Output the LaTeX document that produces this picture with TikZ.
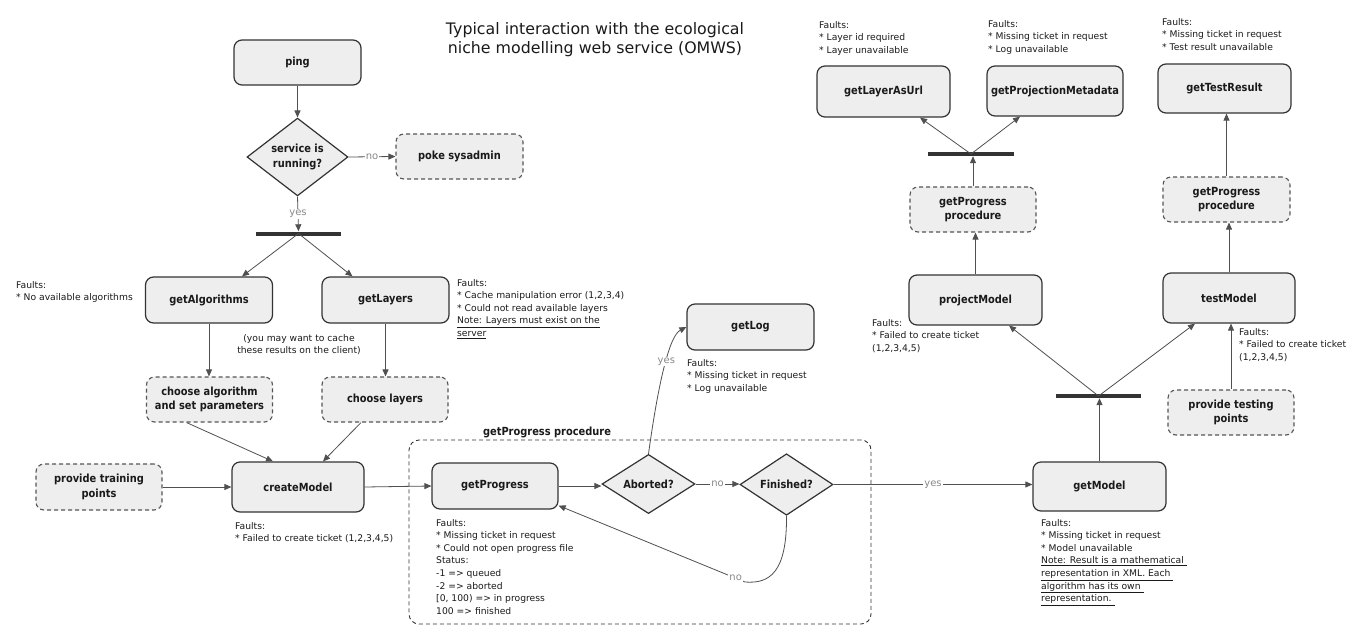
\documentclass[tikz,border=0pt]{standalone}
\usepackage{fontspec}
\setmainfont{DejaVu Sans}
\newfontfamily\nodefamily[FakeStretch=0.88]{DejaVu Sans}
\usetikzlibrary{arrows.meta,shapes.geometric,calc}
\definecolor{boxfill}{HTML}{EEEEEE}
\definecolor{boxline}{HTML}{333333}
\definecolor{dashline}{HTML}{555555}
\definecolor{edgecol}{HTML}{505050}
\definecolor{lblcol}{HTML}{888888}
\definecolor{txtcol}{HTML}{1A1A1A}
\newcommand{\nodefnt}{\nodefamily\bfseries\fontsize{11.2}{14.5}\selectfont}
\newcommand{\notefnt}{\fontsize{9.2}{12.6}\selectfont}
\newcommand{\titlefnt}{\fontsize{15.8}{19}\selectfont}
\newcommand{\lblfnt}{\fontsize{10}{12}\selectfont}
\tikzset{
  sz/.style 2 args={minimum width=#1pt, minimum height=#2pt},
  box/.style={rectangle, rounded corners=8pt, draw=boxline, line width=1.2pt, fill=boxfill,
    font=\nodefnt, text=txtcol, align=center, inner sep=0pt},
  dbox/.style={box, draw=dashline, dash pattern=on 4pt off 3pt, line width=1.1pt},
  dec/.style={diamond, draw=boxline, line width=1.2pt, fill=boxfill, font=\nodefnt,
    text=txtcol, align=center, inner sep=0pt},
  bar/.style={rectangle, fill=boxline, inner sep=0pt, minimum height=4pt},
  container/.style={rectangle, rounded corners=10pt, draw=boxline, line width=0.9pt,
    dash pattern=on 4pt off 3pt, inner sep=0pt},
  note/.style={anchor=north west, font=\notefnt, align=left, inner sep=0pt, text=txtcol},
  conn/.style={draw=edgecol, line width=0.8pt, -{Triangle[length=7pt,width=6pt]}},
  lbl/.style={font=\lblfnt, text=lblcol, fill=white, inner sep=1pt},
}
\begin{document}
\begin{tikzpicture}[x=1pt,y=-1pt]
\path[use as bounding box, fill=white] (0,0) rectangle (1370,640);

% title
\node[font=\titlefnt, align=center, text=txtcol] (title) at (595,40)
  {Typical interaction with the ecological\\niche modelling web service (OMWS)};

% container
\node[container, sz={462}{184}] (proc) at (640,532) {};
\node[font=\nodefnt, text=txtcol, inner sep=0pt] (proclbl) at (547,432) {getProgress procedure};

% left column
\node[box, sz={127}{45}] (ping) at (297.5,62.5) {ping};
\node[dec, sz={101}{70}] (svc) at (297.5,157) {service is\\running?};
\node[dbox, sz={127}{45}] (poke) at (459.5,156.5) {poke sysadmin};
\node[bar, minimum width=85pt] (bar1) at (298.5,233.5) {};
\node[box, sz={127}{46}] (galg) at (209,300) {getAlgorithms};
\node[box, sz={127}{46}] (glay) at (385.5,300) {getLayers};
\node[dbox, sz={126}{45}] (calg) at (209.5,399.5) {choose algorithm\\and set parameters};
\node[dbox, sz={126}{45}] (clay) at (385,399.5) {choose layers};
\node[box, sz={132}{50}] (cm) at (298,487) {createModel};
\node[dbox, sz={126}{46}] (train) at (99,487) {provide training\\points};

% progress
\node[box, sz={126}{46}] (gp) at (495,486) {getProgress};
\node[dec, sz={93}{44}] (abort) at (648.5,484) {Aborted?};
\node[dec, sz={93}{45}] (fin) at (786.5,484.5) {Finished?};
\node[box, sz={127}{46}] (glog) at (750.5,327) {getLog};

% right part
\node[box, sz={133}{49}] (gm) at (1099.5,486.5) {getModel};
\node[bar, minimum width=85pt] (bar3) at (1098.5,396) {};
\node[box, sz={133}{50}] (pm) at (975.5,300) {projectModel};
\node[box, sz={132}{50}] (tm) at (1229,298) {testModel};
\node[dbox, sz={126}{45}] (ptest) at (1231,412.5) {provide testing\\points};
\node[dbox, sz={126}{45}] (gpp1) at (973,209.5) {getProgress\\procedure};
\node[dbox, sz={127}{45}] (gpp2) at (1226.5,199.5) {getProgress\\procedure};
\node[bar, minimum width=86pt] (bar2) at (971,154) {};
\node[box, sz={133}{51}] (gurl) at (883.5,91.5) {getLayerAsUrl};
\node[box, sz={136}{50}] (gpmd) at (1055,91) {getProjectionMetadata};
\node[box, sz={133}{49}] (gtr) at (1224.5,88.5) {getTestResult};

% notes
\node[note] (nalg) at (16,281) {Faults:\\* No available algorithms};
\node[font=\notefnt, align=center, text=txtcol, inner sep=0pt] (ncache) at (299,344.5)
  {(you may want to cache\\these results on the client)};
\node[note] (nlay) at (457,279) {Faults:\\* Cache manipulation error (1,2,3,4)\\* Could not read available layers\\\underline{Note: Layers must exist on the}\\\underline{server}};
\node[note] (ncm) at (235,522) {Faults:\\* Failed to create ticket (1,2,3,4,5)};
\node[note] (ngp) at (436,519) {Faults:\\* Missing ticket in request\\* Could not open progress file\\Status:\\-1 => queued\\-2 => aborted\\{}[0, 100) => in progress\\100 => finished};
\node[note] (nlog) at (687,359) {Faults:\\* Missing ticket in request\\* Log unavailable};
\node[note] (ngm) at (1041,519) {Faults:\\* Missing ticket in request\\* Model unavailable\\\underline{Note: Result is a mathematical\ }\\\underline{representation in XML. Each\ }\\\underline{algorithm has its own\ }\\\underline{representation.\ }};
\node[note] (npm) at (872,319) {Faults:\\* Failed to create ticket\\(1,2,3,4,5)};
\node[note] (ntm) at (1239,328) {Faults:\\* Failed to create ticket\\(1,2,3,4,5)};
\node[note] (nurl) at (819,21) {Faults:\\* Layer id required\\* Layer unavailable};
\node[note] (npmd) at (988,20) {Faults:\\* Missing ticket in request\\* Log unavailable};
\node[note] (ntr) at (1162,18) {Faults:\\* Missing ticket in request\\* Test result unavailable};

% connectors left
\draw[conn] (ping) -- (svc);
\draw[conn] (svc.east) -- node[lbl] {no} (poke.west);
\draw[conn] (svc.south) -- node[lbl] {yes} (bar1.north);
\draw[conn] (bar1.center) -- ([xshift=33pt]galg.north);
\draw[conn] (bar1.center) -- ([xshift=-33pt]glay.north);
\draw[conn] (galg.south) -- (galg.south |- calg.north);
\draw[conn] (glay.south) -- (glay.south |- clay.north);
\draw[conn] ([xshift=-23pt]calg.south) -- ([xshift=-25pt]cm.north);
\draw[conn] ([xshift=-24pt]clay.south) -- ([xshift=25pt]cm.north);
\draw[conn] (train) -- (cm);
\draw[conn] (cm.east) -- (gp.west);

% progress connectors
\draw[conn] (gp.east) -- (gp.east -| abort.west);
\draw[conn] (abort.east) -- node[lbl] {no} (abort.east -| fin.west);
\draw[conn] (abort.north) .. controls (658,385) and (669,336) .. node[lbl, pos=0.55] {yes} (glog.west);
\coordinate (fnturn) at (745,582);
\draw[conn] (fin.south) .. controls (787,572) and (770,584) .. (fnturn)
  -- node[lbl, pos=0.05] {no} ([yshift=4pt]gp.south east);
\draw[conn] (fin.east) -- node[lbl] {yes} (fin.east -| gm.west);

% right connectors
\draw[conn] (gm.north) -- (gm.north |- bar3.south);
\draw[conn] (bar3.center) -- ([xshift=33.5pt]pm.south);
\draw[conn] (bar3.center) -- ([xshift=-34pt]tm.south);
\draw[conn] (ptest.north) -- (ptest.north |- tm.south);
\draw[conn] (pm.north) -- (pm.north |- gpp1.south);
\draw[conn] (gpp1.north) -- (gpp1.north |- bar2.south);
\draw[conn] (bar2.center) -- ([xshift=36.5pt]gurl.south);
\draw[conn] (bar2.center) -- ([xshift=-35pt]gpmd.south);
\draw[conn] (tm.north) -- (tm.north |- gpp2.south);
\draw[conn] (gpp2.north) -- (gpp2.north |- gtr.south);
\end{tikzpicture}
\end{document}
